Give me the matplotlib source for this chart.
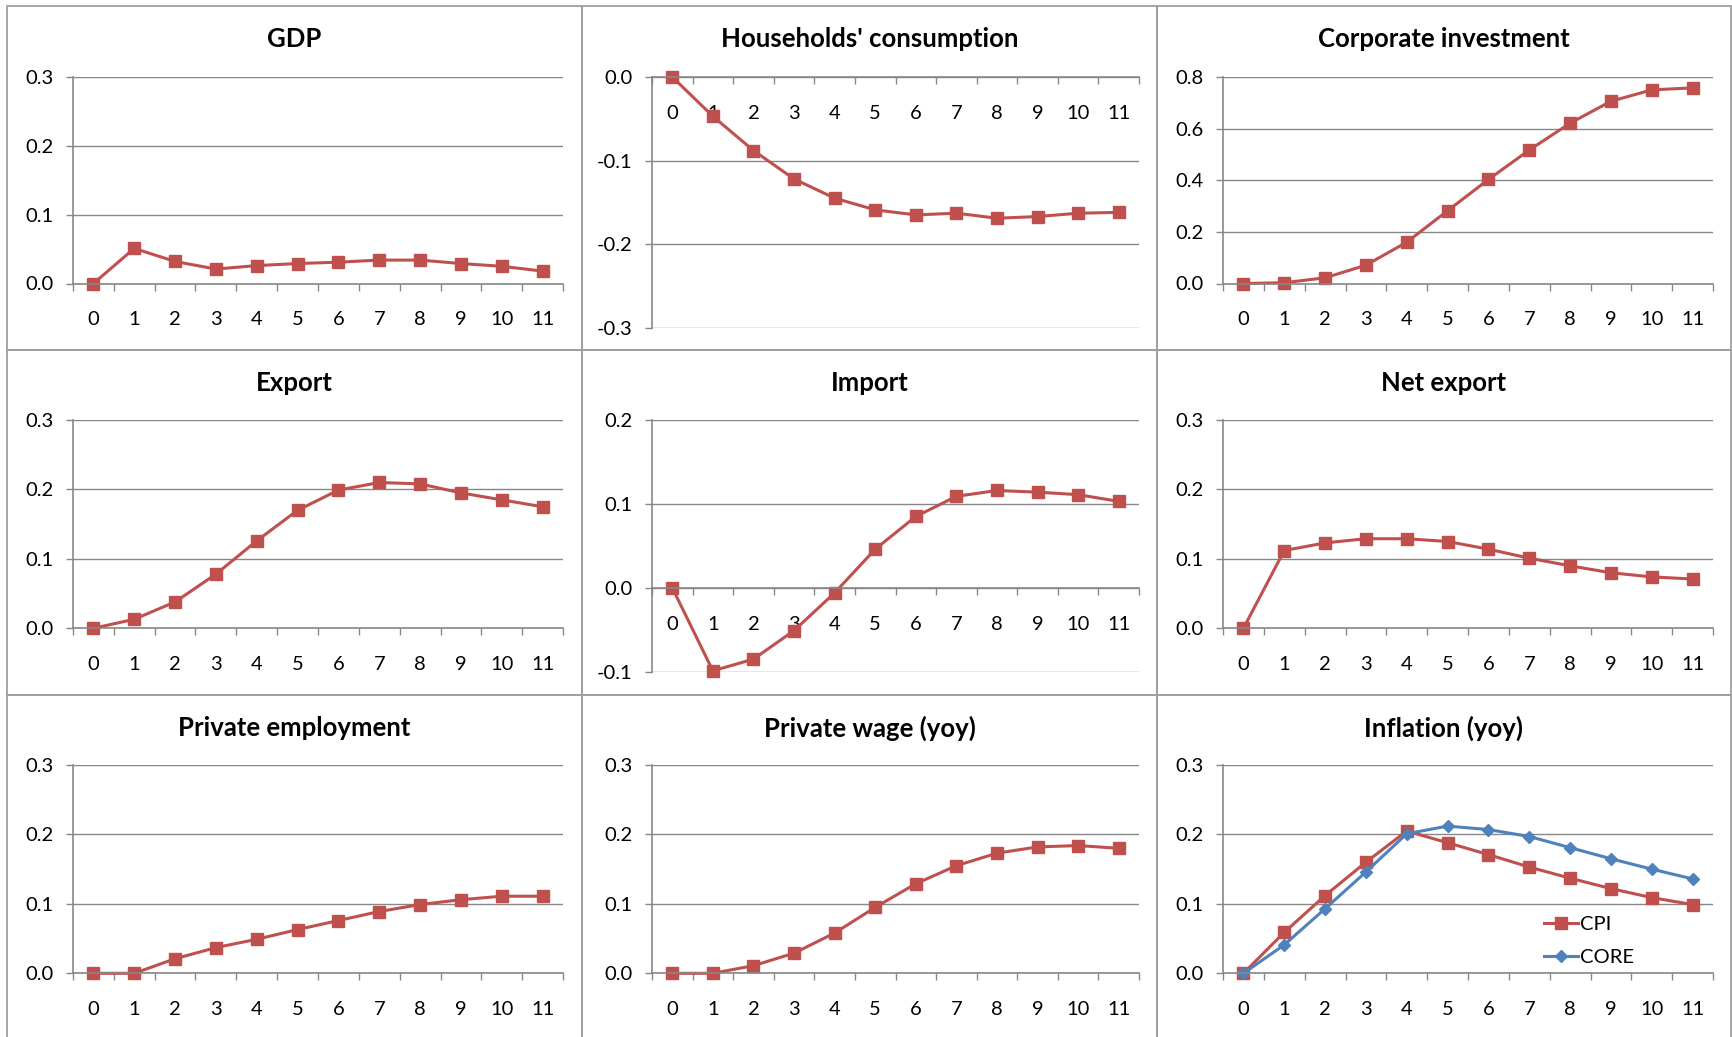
import numpy as np
import matplotlib.pyplot as plt
from matplotlib.ticker import FormatStrFormatter, MultipleLocator
from matplotlib.patches import Rectangle

plt.rcParams['font.family'] = ['Lato', 'DejaVu Sans']
plt.rcParams['axes.unicode_minus'] = False

periods = np.arange(12)

gdp = [0.0, 0.051, 0.032, 0.021, 0.026, 0.029, 0.031, 0.034, 0.034, 0.029, 0.025, 0.018]
consumption = [0.0, -0.047, -0.088, -0.122, -0.145, -0.159, -0.165, -0.163, -0.169, -0.167, -0.163, -0.162]
investment = [0.0, 0.003, 0.022, 0.071, 0.160, 0.282, 0.403, 0.517, 0.621, 0.706, 0.750, 0.758]
export = [0.0, 0.013, 0.038, 0.078, 0.126, 0.170, 0.199, 0.210, 0.208, 0.195, 0.185, 0.175]
imports = [0.0, -0.099, -0.085, -0.051, -0.006, 0.046, 0.085, 0.109, 0.116, 0.114, 0.111, 0.103]
net_export = [0.0, 0.112, 0.123, 0.129, 0.129, 0.125, 0.114, 0.101, 0.090, 0.080, 0.074, 0.071]
employment = [0.0, 0.0, 0.021, 0.037, 0.049, 0.063, 0.076, 0.089, 0.099, 0.106, 0.111, 0.111]
wage = [0.0, 0.0, 0.011, 0.029, 0.058, 0.095, 0.129, 0.155, 0.173, 0.182, 0.184, 0.180]
cpi = [0.0, 0.059, 0.112, 0.160, 0.205, 0.188, 0.171, 0.153, 0.137, 0.122, 0.109, 0.099]
core = [0.0, 0.041, 0.093, 0.146, 0.201, 0.212, 0.207, 0.197, 0.181, 0.165, 0.150, 0.136]

titles = ["GDP", "Households' consumption", "Corporate investment",
          "Export", "Import", "Net export",
          "Private employment", "Private wage (yoy)", "Inflation (yoy)"]

RED = '#C0504D'
BLUE = '#4F81BD'
GRAY = '#878787'
BORDER = '#A0A0A0'

W, H = 1732, 1037
fig = plt.figure(figsize=(W / 100, H / 100), dpi=100)

# panel frames and plot areas in pixels
frame_x = [(7, 582), (582, 1157), (1157, 1731)]
frame_y = [(6, 350), (350, 695), (695, 1045)]
plot_x = [(73, 563), (652, 1139), (1223, 1713)]
plot_top = [77, 420, 765]
plot_bot = [283.5, 628.3, 973.3]
tall_bot = [327.7, 671.7, 973.3]

# series, ylim, step, x axis at zero inside the plot
panels = [
    (gdp, (0, 0.3), 0.1, False),
    (consumption, (-0.3, 0), 0.1, True),
    (investment, (0, 0.8), 0.2, False),
    (export, (0, 0.3), 0.1, False),
    (imports, (-0.1, 0.2), 0.1, True),
    (net_export, (0, 0.3), 0.1, False),
    (employment, (0, 0.3), 0.1, False),
    (wage, (0, 0.3), 0.1, False),
    (cpi, (0, 0.3), 0.1, False),
]

for i, (vals, ylim, step, inside) in enumerate(panels):
    r, c = divmod(i, 3)
    x0, x1 = frame_x[c]
    y0, y1 = frame_y[r]
    fig.add_artist(Rectangle((x0 / W, 1 - y1 / H), (x1 - x0) / W, (y1 - y0) / H,
                             transform=fig.transFigure, fill=False, ec=BORDER, lw=1.3))
    fig.text((x0 + x1) / 2 / W, 1 - (y0 + 33) / H, titles[i], ha='center', va='center',
             fontsize=18.5, fontweight='bold')

    px0, px1 = plot_x[c]
    top = plot_top[r]
    bot = tall_bot[r] if inside else plot_bot[r]
    ax = fig.add_axes([px0 / W, 1 - bot / H, (px1 - px0) / W, (bot - top) / H])

    if i == 8:
        ax.plot(periods, cpi, color=RED, lw=2.2, marker='s', ms=8, label='CPI', clip_on=False)
        ax.plot(periods, core, color=BLUE, lw=2.2, marker='D', ms=6, label='CORE', clip_on=False)
        ax.legend(loc='center left', bbox_to_anchor=(0.655, 0.155), frameon=False,
                  fontsize=14.5, handlelength=1.7, handletextpad=0.1, labelspacing=0.75,
                  borderpad=0, borderaxespad=0)
    else:
        ax.plot(periods, vals, color=RED, lw=2.2, marker='s', ms=8, clip_on=False)

    ax.set_xlim(-0.5, 11.5)
    ax.set_ylim(*ylim)
    ax.yaxis.set_major_locator(MultipleLocator(step))
    ax.yaxis.set_major_formatter(FormatStrFormatter('%.1f'))
    ax.set_xticks(periods)
    ax.set_xticks(np.arange(-0.5, 12, 1), minor=True)
    ax.grid(axis='y', color=GRAY, lw=1)
    ax.set_axisbelow(True)

    for s in ['top', 'right']:
        ax.spines[s].set_visible(False)
    for s in ['left', 'bottom']:
        ax.spines[s].set_color(GRAY)
        ax.spines[s].set_linewidth(1.2)
    if inside:
        ax.spines['bottom'].set_position(('data', 0))

    ax.tick_params(axis='x', which='major', length=0, pad=20, labelsize=14.5)
    ax.tick_params(axis='x', which='minor', length=5, direction='out', color=GRAY, width=1)
    ax.tick_params(axis='y', length=5, direction='out', color=GRAY, width=1, pad=9, labelsize=14.5)

fig.savefig('out.png', dpi=100, facecolor='white')
